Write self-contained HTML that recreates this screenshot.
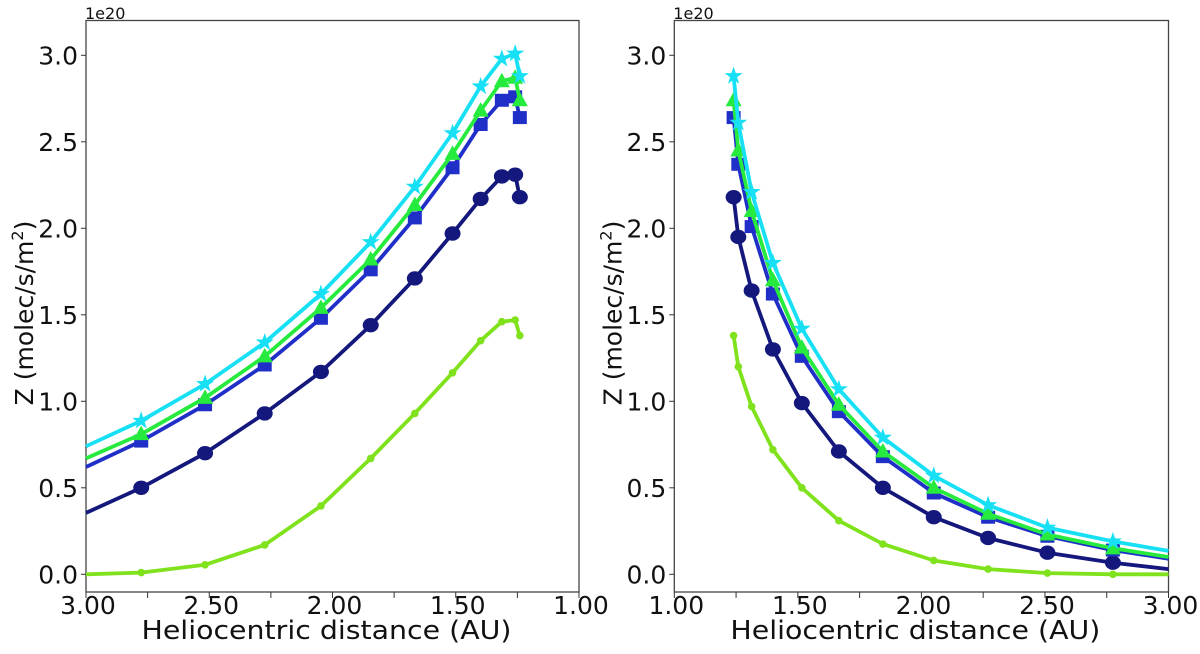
<!DOCTYPE html>
<html><head><meta charset="utf-8"><style>
body{margin:0;background:#fff;}
svg text{font-family:"DejaVu Sans","Liberation Sans",sans-serif;fill:#111;}
</style></head><body>
<svg id="fig" width="1200" height="649" xmlns="http://www.w3.org/2000/svg"></svg>
<script>
// ---- data ----
const leftX = [3.0, 2.776, 2.517, 2.275, 2.047, 1.845, 1.666, 1.513, 1.399, 1.313, 1.259, 1.240];
const leftCyan  = [0.74, 0.887, 1.10, 1.34, 1.62, 1.92, 2.24, 2.55, 2.82, 2.98, 3.01, 2.88];
const leftGreen = [0.67, 0.81, 1.02, 1.26, 1.54, 1.82, 2.135, 2.43, 2.68, 2.85, 2.87, 2.74];
const leftBlue  = [0.62, 0.77, 0.98, 1.21, 1.48, 1.76, 2.06, 2.35, 2.60, 2.74, 2.76, 2.64];
const leftNavy  = [0.355, 0.50, 0.70, 0.93, 1.17, 1.44, 1.71, 1.97, 2.17, 2.30, 2.31, 2.18];
const leftLime  = [0.0, 0.01, 0.055, 0.17, 0.395, 0.67, 0.93, 1.165, 1.35, 1.46, 1.47, 1.38];
const rightX = [1.240, 1.259, 1.313, 1.399, 1.516, 1.666, 1.844, 2.05, 2.27, 2.51, 2.775, 3.0];
const rightCyan  = [2.88, 2.61, 2.21, 1.80, 1.42, 1.07, 0.79, 0.57, 0.40, 0.27, 0.19, 0.135];
const rightGreen = [2.74, 2.45, 2.10, 1.70, 1.31, 0.98, 0.71, 0.50, 0.35, 0.23, 0.15, 0.10];
const rightBlue  = [2.64, 2.37, 2.01, 1.62, 1.26, 0.94, 0.68, 0.47, 0.33, 0.22, 0.14, 0.09];
const rightNavy  = [2.18, 1.95, 1.64, 1.30, 0.99, 0.71, 0.50, 0.33, 0.21, 0.125, 0.067, 0.03];
const rightLime  = [1.38, 1.20, 0.97, 0.72, 0.50, 0.31, 0.175, 0.08, 0.03, 0.007, 0.0, 0.0];
const yTicks = [0.0, 0.5, 1.0, 1.5, 2.0, 2.5, 3.0];
const yTickLabels = ["0.0","0.5","1.0","1.5","2.0","2.5","3.0"];
const xTicks = [1.0, 1.5, 2.0, 2.5, 3.0];
const xTickLabels = ["1.00","1.50","2.00","2.50","3.00"];
const xMinor = [1.25, 1.75, 2.25, 2.75];

const NS = "http://www.w3.org/2000/svg";
const svg = document.getElementById('fig');
function mk(tag, attrs, parent){const e=document.createElementNS(NS,tag);for(const k in attrs)e.setAttribute(k,attrs[k]);(parent||svg).appendChild(e);return e;}

const colors = {cyan:"#18e0f4", green:"#26ea3e", blue:"#1f2fc8", navy:"#14177c", lime:"#7fe21c"};

function panel(name, px0, px1, xAt0, xAt1, xs, series){
  const top=20.5, bot=592, y0=574.3, y3=55.3;
  const g=mk('g',{});
  
  
  const X=v=>px0+(v-xAt0)/(xAt1-xAt0)*(px1-px0);
  const Y=v=>y0+(y3-y0)*v/3;
  const frame=mk('rect',{x:px0,y:top,width:px1-px0,height:bot-top,fill:'none',stroke:'#444','stroke-width':1.3},g);
  
  
  yTicks.forEach((t,i)=>{
    mk('line',{x1:px0-5,x2:px0,y1:Y(t),y2:Y(t),stroke:'#333','stroke-width':1},g);
    const tx=mk('text',{x:px0-8,y:Y(t)+9,'font-size':25,'text-anchor':'end'},g);
    tx.textContent=yTickLabels[i];
    
    
  });
  xTicks.forEach((t,i)=>{
    mk('line',{x1:X(t),x2:X(t),y1:bot,y2:bot+6,stroke:'#333','stroke-width':1},g);
    const tx=mk('text',{x:X(t)+2,y:614,'font-size':25,'text-anchor':'middle'},g);
    tx.textContent=xTickLabels[i];
    
    
  });
  xMinor.forEach(t=>mk('line',{x1:X(t),x2:X(t),y1:bot,y2:bot+6,stroke:'#333','stroke-width':1},g));
  const off=mk('text',{x:px0-1,y:19,'font-size':16},g);
  off.textContent='1e20';
  
  
  const xl=mk('text',{x:(px0+px1)/2-6,y:639,'font-size':26,'text-anchor':'middle',textLength:370,lengthAdjust:'spacingAndGlyphs'},g);
  xl.textContent='Heliocentric distance (AU)';
  
  
  const ycx=px0-53, ycy=313;
  const yl=mk('text',{x:ycx,y:ycy,'font-size':25,'text-anchor':'middle',transform:`rotate(-90 ${ycx} ${ycy})`},g);
  yl.innerHTML='Z (molec/s/m<tspan font-size="16" dy="-10">2</tspan><tspan dy="10">)</tspan>';
  
  
  series.forEach(s=>{
    const pts=xs.map((x,i)=>X(x).toFixed(1)+','+Y(s.vals[i]).toFixed(1)).join(' ');
    const ln=mk('polyline',{points:pts,fill:'none',stroke:s.color,'stroke-width':3.8,'stroke-linejoin':'round'},g);
    
    
    xs.forEach((x,i)=>{
      if(x>=2.99) return;
      const cx=X(x), cy=Y(s.vals[i]); let m;
      if(s.m==='circle') m=mk('ellipse',{cx,cy,rx:8,ry:7.2,fill:s.color},g);
      else if(s.m==='dot') m=mk('circle',{cx,cy,r:3.8,fill:s.color},g);
      else if(s.m==='square') m=mk('rect',{x:cx-7,y:cy-6.5,width:14,height:13,fill:s.color},g);
      else if(s.m==='tri') m=mk('polygon',{points:`${cx},${cy-8.5} ${cx-8},${cy+6} ${cx+8},${cy+6}`,fill:s.color},g);
      else { let p=[];for(let k=0;k<10;k++){const r=k%2?3.7:9.5;const a=-Math.PI/2+k*Math.PI/5;p.push((cx+r*Math.cos(a)).toFixed(1)+','+(cy+r*Math.sin(a)).toFixed(1));}
        m=mk('polygon',{points:p.join(' '),fill:s.color},g);}
      
      
    });
  });
}
panel('left-panel',86,579,3.0,1.0,leftX,[
  {name:'lime-series',vals:leftLime,color:colors.lime,m:'dot'},
  {name:'navy-series',vals:leftNavy,color:colors.navy,m:'circle'},
  {name:'blue-series',vals:leftBlue,color:colors.blue,m:'square'},
  {name:'green-series',vals:leftGreen,color:colors.green,m:'tri'},
  {name:'cyan-series',vals:leftCyan,color:colors.cyan,m:'star'}]);
panel('right-panel',674.3,1168.5,1.0,3.0,rightX,[
  {name:'lime-series',vals:rightLime,color:colors.lime,m:'dot'},
  {name:'navy-series',vals:rightNavy,color:colors.navy,m:'circle'},
  {name:'blue-series',vals:rightBlue,color:colors.blue,m:'square'},
  {name:'green-series',vals:rightGreen,color:colors.green,m:'tri'},
  {name:'cyan-series',vals:rightCyan,color:colors.cyan,m:'star'}]);
</script>
</body></html>
